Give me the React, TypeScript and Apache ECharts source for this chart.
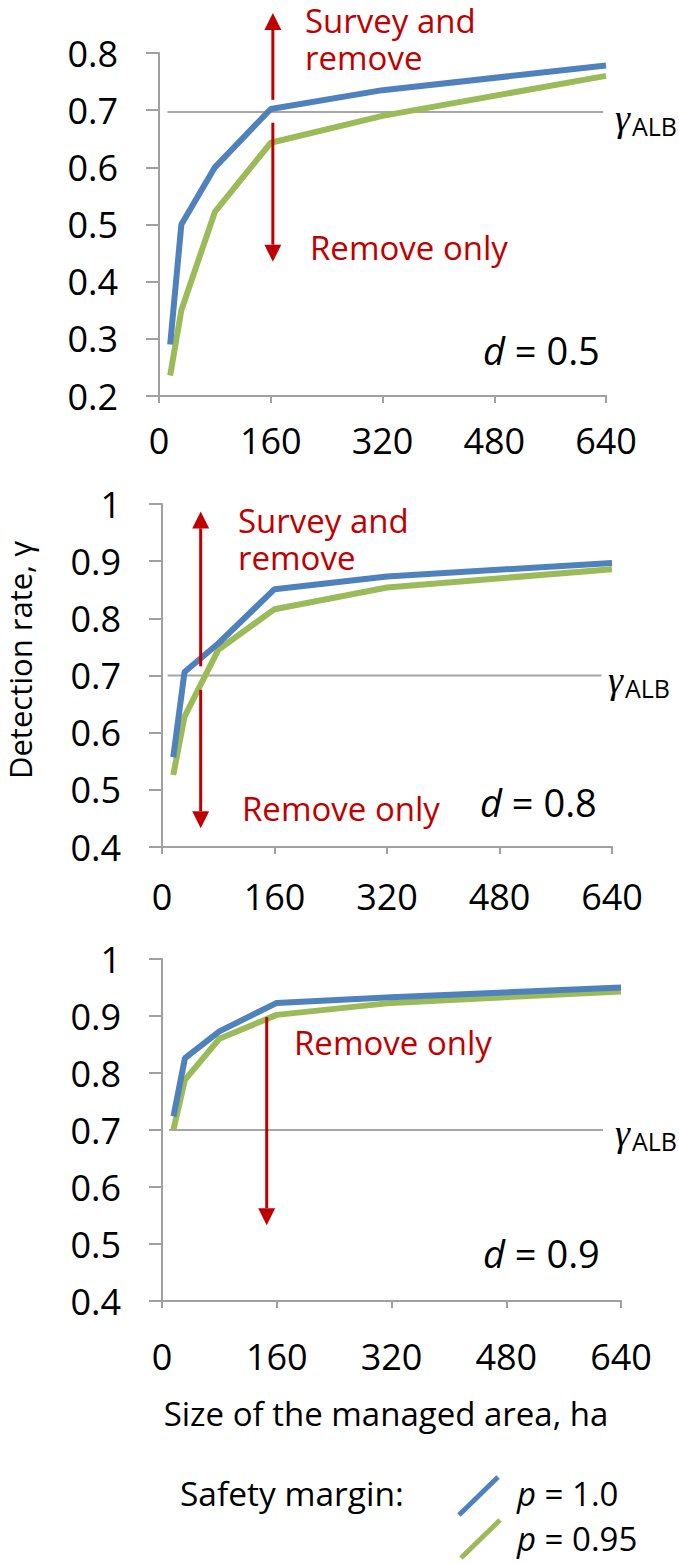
import React, { useEffect, useRef } from "react";
import * as echarts from "echarts";

// ---------- data ----------
const areaSizes = [16, 32, 80, 160, 320, 640];

const topP100 = [0.29, 0.5, 0.6, 0.702, 0.735, 0.778];
const topP095 = [0.236, 0.35, 0.522, 0.643, 0.69, 0.76];
const midP100 = [0.557, 0.706, 0.756, 0.851, 0.873, 0.897];
const midP095 = [0.526, 0.628, 0.745, 0.816, 0.854, 0.886];
const botP100 = [0.724, 0.826, 0.873, 0.923, 0.933, 0.95];
const botP095 = [0.701, 0.788, 0.86, 0.902, 0.923, 0.943];

const gammaALB = [0.697, 0.7, 0.7];
const gammaSpanTop = [12, 636];
const gammaSpanMid = [8, 625];
const gammaSpanBot = [10, 615];

const dValues = ["0.5", "0.8", "0.9"];
const yMins = [0.2, 0.4, 0.4];
const yMaxs = [0.8, 1, 1];
const xMin = 0;
const xMax = 640;
const xInterval = 160;
const yInterval = 0.1;

// arrows: [x, yFrom, yTo]
const arrowsTop = [
  [163, 0.718, 0.87],
  [163, 0.678, 0.435],
];
const arrowsMid = [
  [55, 0.716, 0.987],
  [55, 0.675, 0.433],
];
const arrowsBot = [[146, 0.898, 0.533]];

const legendNames = ["p = 1.0", "p = 0.95"];

// ---------- styles ----------
const BLUE = "#4F81BD";
const GREEN = "#9BBB59";
const RED = "#C00000";
const GRAY = "#A6A6A6";
const AXIS = "#A0A0A0";
const FONT = "'Open Sans', sans-serif";

const grids = [
  { left: 159, top: 53, width: 447, height: 343 },
  { left: 162, top: 504, width: 450, height: 343 },
  { left: 162, top: 959, width: 459, height: 342 },
];
const xLabelMargins = [26, 31, 37];

export default function App() {
  const ref = useRef<HTMLDivElement>(null);

  useEffect(() => {
    if (!ref.current) return;
    const chart = echarts.init(ref.current, undefined, { renderer: "svg" });

    const panels = [
      { p100: topP100, p095: topP095, span: gammaSpanTop, arrows: arrowsTop },
      { p100: midP100, p095: midP095, span: gammaSpanMid, arrows: arrowsMid },
      { p100: botP100, p095: botP095, span: gammaSpanBot, arrows: arrowsBot },
    ];

    const xAxes = grids.map((_, i) => ({
      type: "value",
      gridIndex: i,
      min: xMin,
      max: xMax,
      interval: xInterval,
      axisLine: { show: true, lineStyle: { color: AXIS, width: 2 } },
      axisTick: { show: true, length: 7, lineStyle: { color: AXIS, width: 2 } },
      splitLine: { show: false },
      axisLabel: {
        color: "#000",
        fontSize: 36,
        fontFamily: FONT,
        margin: xLabelMargins[i],
      },
    }));

    const yAxes = grids.map((_, i) => ({
      type: "value",
      gridIndex: i,
      min: yMins[i],
      max: yMaxs[i],
      interval: yInterval,
      axisLine: { show: true, lineStyle: { color: AXIS, width: 2 } },
      axisTick: { show: true, length: 13, lineStyle: { color: AXIS, width: 2 } },
      splitLine: { show: false },
      axisLabel: {
        color: "#000",
        fontSize: 36,
        fontFamily: FONT,
        margin: 41,
        formatter: (v: number) => String(Math.round(v * 10) / 10),
      },
    }));

    const series: any[] = [];
    panels.forEach((p, i) => {
      series.push({
        type: "line",
        xAxisIndex: i,
        yAxisIndex: i,
        data: p.span.map((x) => [x, gammaALB[i]]),
        symbol: "none",
        lineStyle: { color: GRAY, width: 2 },
        silent: true,
        z: 1,
      });
      series.push({
        name: legendNames[1],
        type: "line",
        xAxisIndex: i,
        yAxisIndex: i,
        data: areaSizes.map((x, k) => [x, p.p095[k]]),
        symbol: "none",
        lineStyle: { color: GREEN, width: 6 },
        z: 2,
      });
      series.push({
        name: legendNames[0],
        type: "line",
        xAxisIndex: i,
        yAxisIndex: i,
        data: areaSizes.map((x, k) => [x, p.p100[k]]),
        symbol: "none",
        lineStyle: { color: BLUE, width: 6 },
        z: 3,
      });
      series.push({
        type: "custom",
        xAxisIndex: i,
        yAxisIndex: i,
        clip: false,
        z: 4,
        data: p.arrows,
        renderItem: (_params: any, api: any) => {
          const x = api.value(0);
          const y0 = api.value(1);
          const y1 = api.value(2);
          const a = api.coord([x, y0]);
          const b = api.coord([x, y1]);
          const dir = b[1] > a[1] ? 1 : -1;
          const head = 17;
          const hw = 8.5;
          const base = b[1] - dir * head;
          return {
            type: "group",
            children: [
              {
                type: "line",
                shape: { x1: a[0], y1: a[1], x2: b[0], y2: base },
                style: { stroke: RED, lineWidth: 3 },
              },
              {
                type: "polygon",
                shape: { points: [[b[0], b[1]], [b[0] - hw, base], [b[0] + hw, base]] },
                style: { fill: RED },
              },
            ],
          };
        },
      });
    });

    const txt = (text: string, x: number, y: number, extra: any = {}) => ({
      type: "text",
      x,
      y,
      style: {
        text,
        fontSize: 33,
        fontFamily: FONT,
        fill: "#000",
        align: "left",
        verticalAlign: "middle",
        ...extra,
      },
    });

    const twoLine = (text: string, x: number, y: number) =>
      txt(text, x, y, { fill: RED, lineHeight: 37 });

    const dText = (val: string, x: number, y: number) =>
      txt(`{i|d} = ${val}`, x, y, {
        fontSize: 38,
        rich: { i: { fontStyle: "italic", fontSize: 38, fontFamily: FONT } },
      });

    const gammaLabel = (x: number, y: number) => [
      {
        type: "text",
        x,
        y,
        style: {
          text: "γ",
          fontSize: 38,
          fontStyle: "italic",
          fontFamily: "'Liberation Serif', serif",
          fill: "#000",
          align: "left",
          verticalAlign: "middle",
        },
      },
      {
        type: "text",
        x: x + 17,
        y: y + 8,
        style: {
          text: "ALB",
          fontSize: 25,
          fontFamily: FONT,
          fill: "#000",
          align: "left",
          verticalAlign: "middle",
        },
      },
    ];

    const pText = (val: string, x: number, y: number) =>
      txt(`{i|p} = ${val}`, x, y, {
        fontSize: 33,
        rich: { i: { fontStyle: "italic", fontSize: 33, fontFamily: FONT } },
      });

    const graphic: any[] = [
      // top panel
      twoLine("Survey and\nremove", 305, 39),
      txt("Remove only", 310, 247, { fill: RED }),
      dText(dValues[0], 483, 350),
      ...gammaLabel(615, 118),
      // middle panel
      twoLine("Survey and\nremove", 238, 539),
      txt("Remove only", 242, 808, { fill: RED }),
      dText(dValues[1], 480, 802),
      ...gammaLabel(608, 680),
      // bottom panel
      txt("Remove only", 294, 1042, { fill: RED }),
      dText(dValues[2], 483, 1253),
      ...gammaLabel(615, 1133),
      // axis titles
      {
        type: "text",
        x: 20,
        y: 660,
        rotation: Math.PI / 2,
        style: {
          text: "Detection rate, γ",
          fontSize: 31,
          fontFamily: FONT,
          fill: "#000",
          align: "center",
          verticalAlign: "middle",
        },
      },
      txt("Size of the managed area, ha", 386, 1413, { fontSize: 33, align: "center" }),
      // legend
      txt("Safety margin:", 180, 1493, { fontSize: 33.5 }),
      {
        type: "line",
        shape: { x1: 459, y1: 1515, x2: 498, y2: 1477 },
        style: { stroke: BLUE, lineWidth: 5 },
      },
      {
        type: "line",
        shape: { x1: 461, y1: 1558, x2: 500, y2: 1520 },
        style: { stroke: GREEN, lineWidth: 5 },
      },
      pText("1.0", 517, 1493),
      pText("0.95", 517, 1538),
    ];

    chart.setOption({
      animation: false,
      backgroundColor: "#fff",
      grid: grids.map((g) => ({ ...g, containLabel: false })),
      xAxis: xAxes,
      yAxis: yAxes,
      series,
      graphic,
    });

    return () => chart.dispose();
  }, []);

  return (
    <div
      ref={ref}
      style={{ position: "absolute", left: 0, top: 0, width: 679, height: 1564, background: "#fff" }}
    />
  );
}
